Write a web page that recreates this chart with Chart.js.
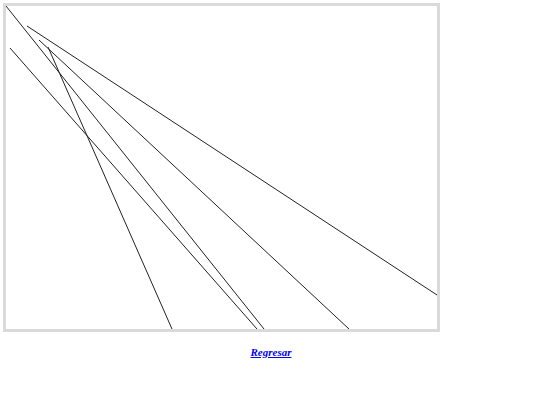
<!DOCTYPE html>
<html>
<head>
<meta charset="utf-8">
<script src="https://cdn.jsdelivr.net/npm/chart.js@4/dist/chart.umd.min.js"></script>
<style>
  body { margin: 0; background: #fff; }
  #box {
    position: absolute; left: 3px; top: 3px;
    width: 431px; height: 323px;
    border: 3px solid #dadada;
  }
  #back {
    position: absolute; left: 0; top: 343px; width: 542px;
    text-align: center; line-height: 18px;
    font-family: "Liberation Serif", "DejaVu Serif", serif;
    font-size: 11px; font-weight: bold; font-style: italic;
  }
  #back a { color: #0000ee; }
</style>
</head>
<body>
<div id="box"><canvas id="linesChart" width="431" height="323"></canvas></div>
<div id="back"><a href="#">Regresar</a></div>
<script>
// segment start / end points, y measured downward from the top of the panel
const startX = [0, 21, 33, 42, 4];
const startY = [0, 20, 34, 41, 42];
const endX = [258, 431, 343, 166, 251];
const endY = [323, 289, 323, 323, 323];

const ctx = document.getElementById('linesChart');

function createSegment(i) {
    return {
        data: [{x: startX[i], y: startY[i]}, {x: endX[i], y: endY[i]}],
        showLine: true,
        borderColor: '#222',
        borderWidth: 1,
        pointRadius: 0,
        fill: false
    };
}

const datasets = [];
for (let i = 0; i < startX.length; i++) {
    datasets.push(createSegment(i));
}

const linesChart = new Chart(ctx, {
    type: 'scatter',
    data: { datasets },
    options: {
        responsive: false,
        animation: false,
        layout: { padding: 0 },
        scales: {
            x: { type: 'linear', min: 0, max: 431, display: false },
            y: { type: 'linear', min: 0, max: 323, reverse: true, display: false }
        },
        plugins: {
            legend: { display: false },
            tooltip: { enabled: false }
        }
    }
});
</script>
</body>
</html>
